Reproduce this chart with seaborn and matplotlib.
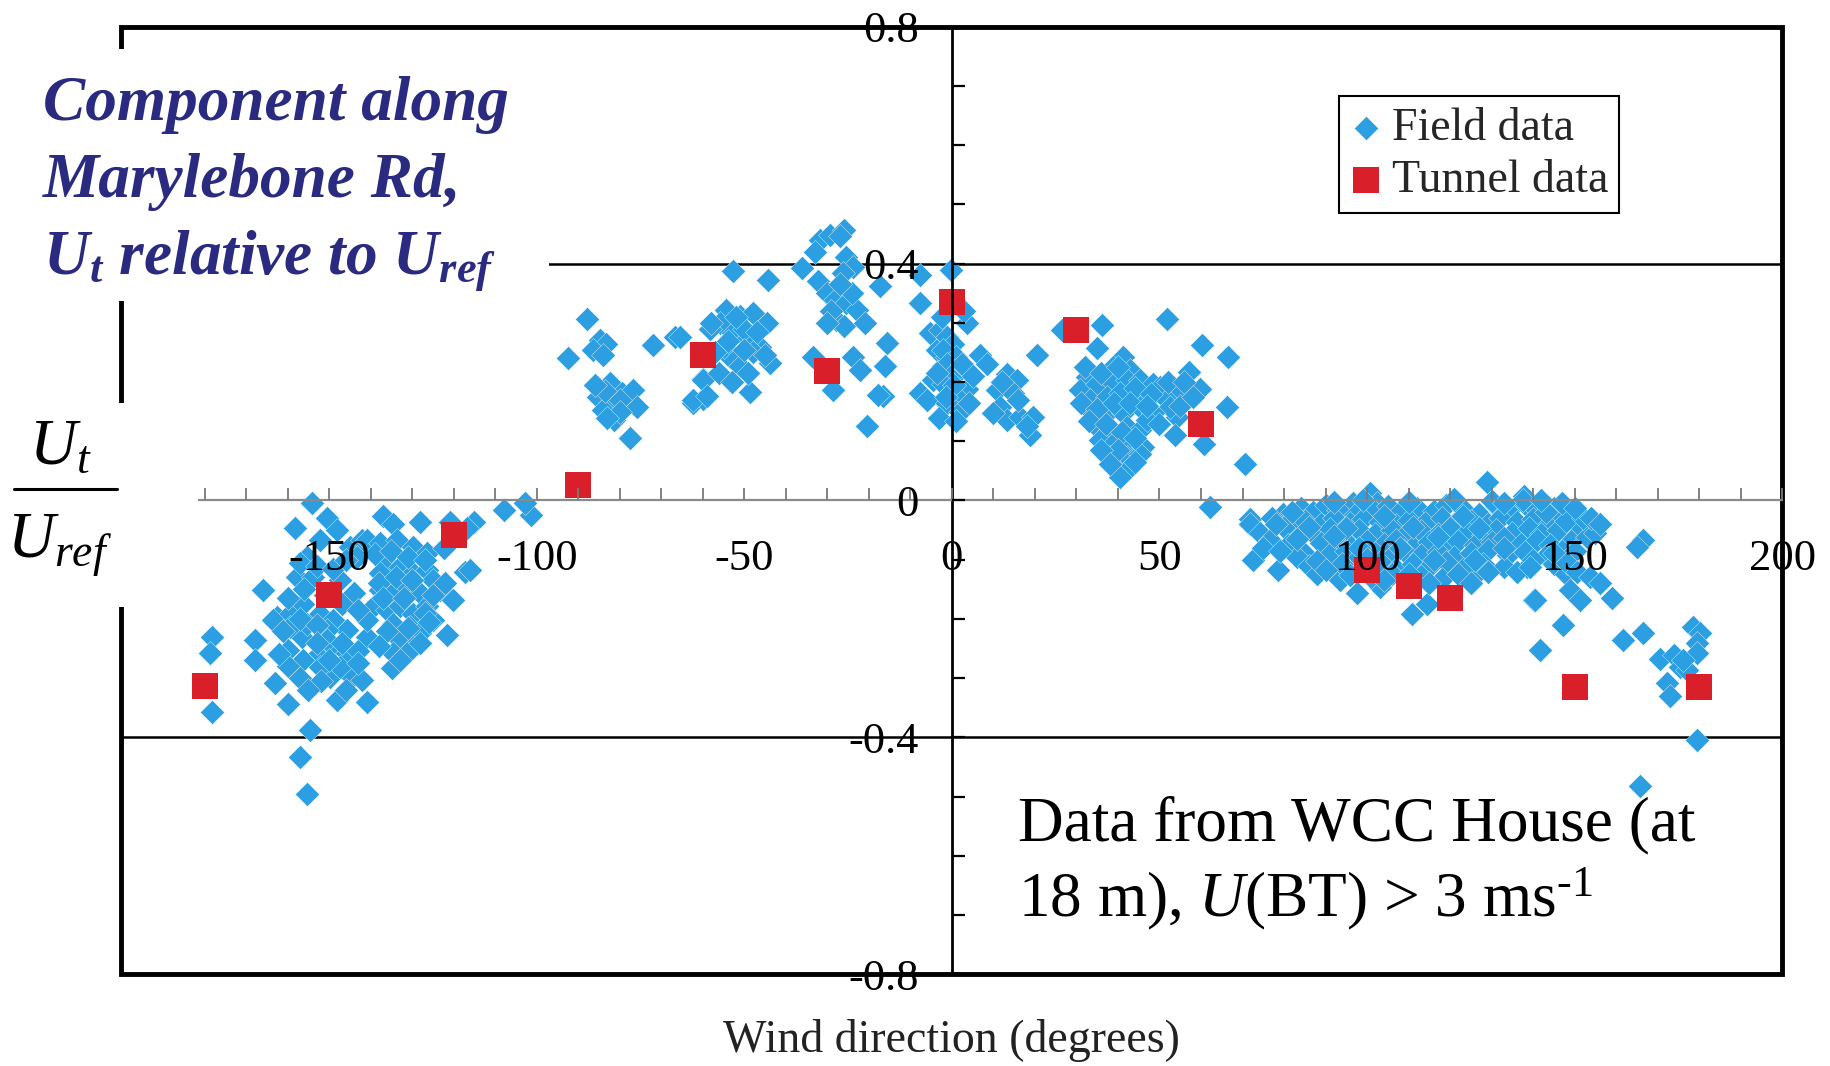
import matplotlib
matplotlib.use("Agg")
import matplotlib.pyplot as plt
import seaborn as sns
from matplotlib.patches import Rectangle
from matplotlib.lines import Line2D
from matplotlib.ticker import MultipleLocator

# ---------------------------------------------------------------- data
# Field measurements: wind direction (deg) and along-street component Ut/Uref
field_dir_w = [
    -154.2, -150.6, -158.2, -148.2, -152.2, -144.9, -142.1, -155.4, -157.8, -153.8,
    -147.4, -144.1, -165.8, -162.6, -159.4, -156.2, -152.2, -149.0, -145.8, -150.6,
    -156.6, -159.8, -156.2, -152.2, -149.0, -145.8, -140.9, -149.8, -144.5, -148.2,
    -140.9, -163.0, -159.8, -167.8, -167.8, -178.3, -178.7, -178.3, -154.6, -157.0,
    -155.4, -147.4, -150.6, -159.4, -163.4, -155.4, -152.2, -142.1,
    -136.9, -134.5, -128.1, -115.2, -140.9, -137.7, -133.7, -129.7, -126.5, -136.1,
    -132.9, -129.7, -126.5, -124.9, -137.7, -134.5, -131.3, -128.1, -123.3, -120.1,
    -139.3, -136.1, -132.9, -129.7, -126.5, -124.9, -134.5, -130.5, -128.1, -132.9,
    -129.7, -134.5, -131.3, -134.9, -121.7, -117.2, -137.7, -140.9, -143.3,
    -116.8, -116.0, -122.4, -120.8, -107.8, -101.4, -102.8,
    -157, -153, -149, -146, -160, -156, -151, -147, -143, -161,
    -157, -153, -147, -143, -153, -160, -157, -152, -146, -162,
    -150, -143, -155,
    -139, -135, -131, -127, -138, -134, -130, -125, -122, -137,
    -132, -127, -136, -131, -126, -138, -133, -128,
]
field_ratio_w = [
    -0.005, -0.030, -0.047, -0.050, -0.067, -0.078, -0.067, -0.095, -0.129, -0.129,
    -0.134, -0.157, -0.151, -0.196, -0.191, -0.174, -0.191, -0.202, -0.219, -0.219,
    -0.230, -0.253, -0.269, -0.258, -0.247, -0.258, -0.230, -0.298, -0.298, -0.337,
    -0.340, -0.309, -0.343, -0.236, -0.269, -0.230, -0.258, -0.357, -0.388, -0.433,
    -0.495, -0.281, -0.236, -0.213, -0.202, -0.208, -0.281, -0.303,
    -0.027, -0.039, -0.036, -0.036, -0.067, -0.072, -0.067, -0.078, -0.089, -0.106,
    -0.112, -0.123, -0.117, -0.134, -0.151, -0.157, -0.146, -0.157, -0.151, -0.168,
    -0.179, -0.185, -0.179, -0.191, -0.179, -0.202, -0.208, -0.213, -0.224, -0.236,
    -0.247, -0.258, -0.258, -0.283, -0.227, -0.120, -0.123, -0.202, -0.095,
    -0.046, -0.117, -0.081, -0.036, -0.016, -0.024, -0.005,
    -0.105, -0.110, -0.115, -0.100, -0.165, -0.150, -0.160, -0.175, -0.185, -0.220,
    -0.200, -0.210, -0.240, -0.255, -0.240, -0.280, -0.300, -0.305, -0.320, -0.260,
    -0.270, -0.275, -0.320,
    -0.090, -0.085, -0.095, -0.100, -0.140, -0.130, -0.135, -0.160, -0.140, -0.165,
    -0.165, -0.190, -0.220, -0.215, -0.205, -0.245, -0.270, -0.240,
]

field_dir_n = [
    -88.0, -84.8, -83.2, -86.4, -84.0, -92.4, -71.9, -66.7, -59.9, -62.3,
    -59.9, -82.3, -85.2, -82.3, -79.5, -76.7, -75.9, -81.5, -84.0, -77.5,
    -80.0, -83.5, -86.0, -80.0, -83.0,
    -31.8, -29.4, -26.1, -27.0, -25.4, -23.7, -26.2, -52.7, -44.2, -36.2,
    -32.2, -30.2, -28.2, -25.4, -22.9, -27.8, -26.1, -17.3, -7.7, -0.1,
    -7.7, -54.3, -55.9, -51.0, -47.8, -44.6, -58.3, -52.7, -49.4, -46.2,
    -53.5, -51.0, -43.8, -59.9, -62.3, -59.1, -48.6, -65.5, -33.4, -23.7,
    -22.1, -15.7, -16.1, -28.6, -16.5, -20.5, -7.7, -5.3, -3.7, -2.1,
    -4.5, -2.1, -1.3, -2.9, -6.1, -17.9, -50.0, -55.0, -48.0,
    -57, -54, -50, -47, -45, -56, -53, -49, -58, -52,
    -29, -24, -27, -21, -30, -33,
]
field_ratio_n = [
    0.307, 0.271, 0.265, 0.254, 0.245, 0.240, 0.262, 0.276, 0.206, 0.164,
    0.172, 0.198, 0.175, 0.164, 0.181, 0.186, 0.158, 0.136, 0.153, 0.105,
    0.170, 0.185, 0.195, 0.150, 0.140,
    0.440, 0.449, 0.457, 0.447, 0.412, 0.395, 0.384, 0.387, 0.373, 0.393,
    0.370, 0.350, 0.339, 0.333, 0.322, 0.305, 0.294, 0.362, 0.381, 0.390,
    0.333, 0.322, 0.300, 0.311, 0.317, 0.300, 0.289, 0.283, 0.272, 0.260,
    0.243, 0.227, 0.232, 0.204, 0.170, 0.176, 0.184, 0.277, 0.243, 0.243,
    0.221, 0.266, 0.227, 0.187, 0.176, 0.125, 0.182, 0.283, 0.255, 0.227,
    0.204, 0.170, 0.243, 0.288, 0.170, 0.179, 0.290, 0.260, 0.250,
    0.250, 0.270, 0.255, 0.285, 0.245, 0.215, 0.200, 0.215, 0.300, 0.310,
    0.320, 0.350, 0.365, 0.300, 0.300, 0.420,
]

field_dir_e = [
    3.6, -1.3, 0.3, -2.1, 1.1, -1.3, 1.9, -0.5, -2.1, 3.6,
    -0.5, 1.9, -1.3, 1.9, 6.8, 8.4, 20.4, 13.2, 15.6, 10.8,
    14.8, 11.6, 13.2, 16.4, 19.6, 18.8, 10.0, 26.4, 36.1, 34.9,
    51.7, 60.2, 66.6, 57.0, 55.0, 59.8, 66.2, 54.1, 53.7, 60.6,
    70.6, 62.2, 71.8,
    -3.5, 0.5, -1.5, 2.5, -3.0, 1.0, -2.5, 3.0, 5.0, 4.0,
    12.0, 16.0, 18.0,
    41.3, 38.9, 42.9, 32.5, 30.9, 34.9, 38.1, 42.1, 45.3, 48.5,
    50.1, 33.3, 37.3, 40.5, 44.5, 46.9, 51.7, 52.5, 34.1, 37.3,
    41.3, 45.3, 48.5, 34.9, 38.1, 42.1, 45.3, 46.9, 35.7, 38.9,
    42.9, 46.1, 38.1, 42.1, 45.3, 39.7, 42.9, 40.5,
    32, 36, 40, 44, 48, 52, 55, 31, 35, 39,
    43, 47, 33, 37, 41, 44, 40, 36, 44, 38,
    50, 56, 58,
]
field_ratio_e = [
    0.299, 0.276, 0.265, 0.254, 0.243, 0.231, 0.220, 0.209, 0.197, 0.189,
    0.181, 0.169, 0.164, 0.150, 0.245, 0.231, 0.245, 0.214, 0.203, 0.186,
    0.181, 0.158, 0.136, 0.141, 0.141, 0.110, 0.147, 0.288, 0.296, 0.257,
    0.307, 0.262, 0.243, 0.217, 0.186, 0.189, 0.158, 0.141, 0.110, 0.096,
    0.062, -0.011, -0.031,
    0.215, 0.195, 0.175, 0.230, 0.140, 0.135, 0.310, 0.320, 0.210, 0.165,
    0.200, 0.170, 0.125,
    0.243, 0.226, 0.220, 0.209, 0.186, 0.197, 0.203, 0.203, 0.203, 0.197,
    0.192, 0.169, 0.175, 0.181, 0.175, 0.169, 0.169, 0.158, 0.147, 0.147,
    0.147, 0.158, 0.147, 0.124, 0.119, 0.124, 0.119, 0.136, 0.102, 0.096,
    0.096, 0.091, 0.074, 0.074, 0.079, 0.051, 0.057, 0.040,
    0.225, 0.215, 0.225, 0.190, 0.180, 0.200, 0.160, 0.165, 0.155, 0.165,
    0.165, 0.160, 0.135, 0.130, 0.115, 0.105, 0.085, 0.085, 0.065, 0.062,
    0.130, 0.200, 0.175,
]

field_dir_s = [
    128.8, 100.7, 102.3, 96.7, 79.8, 71.8, 74.2, 76.6, 72.6, 78.6,
    82.2, 84.7, 137.7, 93.5, 97.5, 103.1, 110.8, 114.4, 125.6, 140.1,
    138.5, 77.0, 80.0, 75.0, 81.0, 83.0, 86.0, 78.0, 84.0, 88.0,
    84, 87, 90, 93, 97, 101, 105, 108, 112, 116, 119, 123, 127, 131, 134, 138, 141, 145,
    85, 89, 92, 96, 99, 103, 107, 110, 114, 118, 121, 125, 129, 132, 136, 140, 144, 147,
    87, 91, 95, 98, 102, 106, 109, 113, 117, 120, 124, 128, 131, 135, 139, 142, 146, 151,
    89, 93, 96, 100, 104, 107, 111, 115, 119, 122, 126, 130, 133, 137, 141, 144, 149, 153,
    91, 95, 98, 102, 106, 109, 113, 117, 121, 125, 129, 134, 138, 143, 147,
    94, 99, 103, 107, 111, 115, 119, 123, 128, 133, 145,
    96, 101, 106, 113, 118, 122, 129, 148,
    82, 86, 83, 79, 88, 90, 92, 99, 110, 121, 130, 95, 104, 111, 117, 123,
    127, 133, 140, 136, 126, 116, 108, 98, 92, 100, 143, 148, 152, 155,
    150, 145, 110, 115, 104, 125,
    137.6, 133.0, 142.0, 147.0, 150.0, 154.0, 156.0,
    166.5, 164.9, 139.2, 148.1, 150.5, 153.7, 156.1, 148.9, 151.3, 140.4,
    158.9, 147.3, 141.6, 161.7, 166.5, 170.5, 173.8, 178.6, 180.2, 179.4,
    179.4, 175.4, 177.0, 172.2, 173.0, 176.0, 179.4, 165.7,
]
field_ratio_s = [
    0.032, 0.012, -0.005, -0.005, -0.022, -0.039, -0.055, -0.067, -0.100, -0.117,
    -0.050, -0.089, 0.007, -0.134, -0.157, -0.146, -0.191, -0.174, -0.129, -0.168,
    -0.112, -0.030, -0.045, -0.080, -0.075, -0.095, -0.110, -0.040, -0.035, -0.125,
    -0.012, -0.020, -0.008, -0.016, -0.024, -0.013, -0.009, -0.020, -0.012, -0.018,
    -0.007, -0.015, -0.022, -0.010, -0.018, -0.006, -0.016, -0.012,
    -0.034, -0.040, -0.030, -0.038, -0.031, -0.036, -0.042, -0.033, -0.038, -0.029,
    -0.040, -0.034, -0.039, -0.030, -0.036, -0.031, -0.038, -0.027,
    -0.055, -0.048, -0.058, -0.050, -0.056, -0.049, -0.060, -0.052, -0.057, -0.047,
    -0.054, -0.058, -0.050, -0.055, -0.047, -0.057, -0.050, -0.046,
    -0.072, -0.066, -0.077, -0.069, -0.074, -0.066, -0.078, -0.070, -0.075, -0.068,
    -0.076, -0.070, -0.064, -0.073, -0.067, -0.076, -0.069, -0.061,
    -0.090, -0.085, -0.095, -0.088, -0.094, -0.085, -0.092, -0.087, -0.096, -0.089,
    -0.084, -0.092, -0.087, -0.094, -0.086,
    -0.108, -0.112, -0.104, -0.115, -0.107, -0.113, -0.104, -0.116, -0.108, -0.113, -0.107,
    -0.126, -0.130, -0.124, -0.128, -0.133, -0.125, -0.121, -0.124,
    -0.020, -0.045, -0.065, -0.085, -0.102, -0.118, -0.003, 0.001, -0.002, 0.002,
    -0.001, -0.047, -0.027, -0.045, -0.062, -0.027, -0.046, -0.080, -0.100, -0.120,
    -0.100, -0.101, -0.080, -0.080, -0.060, -0.098, -0.020, -0.035, -0.030, -0.055,
    -0.085, -0.088, -0.125, -0.140, -0.135, -0.140,
    0.001, -0.004, 0.000, -0.004, -0.012, -0.030, -0.040,
    -0.067, -0.078, -0.112, -0.106, -0.120, -0.130, -0.140, -0.151, -0.168, -0.168,
    -0.165, -0.210, -0.252, -0.236, -0.224, -0.267, -0.261, -0.213, -0.224, -0.240,
    -0.258, -0.281, -0.287, -0.309, -0.331, -0.270, -0.405, -0.483,
]

# Wind-tunnel results
tunnel_dir = [-180, -150, -120, -90, -60, -30, 0, 30, 60, 100, 110, 120, 150, 180]
tunnel_ratio = [-0.313, -0.160, -0.058, 0.026, 0.246, 0.218, 0.336, 0.288,
                0.130, -0.117, -0.145, -0.165, -0.315, -0.315]

x_ticks = [-150, -100, -50, 0, 50, 100, 150, 200]
x_tick_labels = ["-150", "-100", "-50", "0", "50", "100", "150", "200"]
y_ticks = [-0.8, -0.4, 0.0, 0.4, 0.8]
y_tick_labels = ["-0.8", "-0.4", "0", "0.4", "0.8"]

field_dir = field_dir_w + field_dir_n + field_dir_e + field_dir_s
field_ratio = field_ratio_w + field_ratio_n + field_ratio_e + field_ratio_s

# ---------------------------------------------------------------- style
sns.set_theme(style="white")
plt.rcParams["font.family"] = ["Liberation Serif", "DejaVu Serif"]
plt.rcParams["mathtext.fontset"] = "custom"
plt.rcParams["mathtext.rm"] = "Liberation Serif"
plt.rcParams["mathtext.it"] = "Liberation Serif:italic"
plt.rcParams["mathtext.bf"] = "Liberation Serif:bold:italic"

BLUE = "#2C9FE2"
RED = "#D9202A"
NAVY = "#2A2A80"

W, H = 1830, 1066
fig = plt.figure(figsize=(W / 100, H / 100), dpi=100)
fig.patch.set_facecolor("white")


def fx(px):
    return px / W


def fy(py):
    return 1 - py / H


ax = fig.add_axes([fx(121.5), fy(974.1), (1782.3 - 121.5) / W, (974.1 - 26.9) / H])
ax.set_facecolor("white")
ax.set_axisbelow(False)

# reference lines at +-0.4
for yv in (0.4, -0.4):
    ax.axhline(yv, color="black", lw=1.8, zorder=1)

sns.scatterplot(x=field_dir, y=field_ratio, marker="D", s=150, color=BLUE,
                edgecolor="white", linewidth=0.25, ax=ax, zorder=2,
                label="Field data")
sns.scatterplot(x=tunnel_dir, y=tunnel_ratio, marker="s", s=350, color=RED,
                linewidth=0, ax=ax, zorder=2.1, label="Tunnel data")

ax.set_xlim(-200, 200)
ax.set_ylim(-0.8, 0.8)

# axes crossing at the origin
ax.spines["left"].set_position(("data", 0))
ax.spines["left"].set_color("black")
ax.spines["left"].set_linewidth(2.0)
ax.spines["bottom"].set_position(("data", 0))
ax.spines["bottom"].set_color("#8a8a8a")
ax.spines["bottom"].set_linewidth(1.6)
ax.spines["top"].set_visible(False)
ax.spines["right"].set_visible(False)

# outer frame
ax.add_patch(Rectangle((0, 0), 1, 1, transform=ax.transAxes, fill=False,
                       edgecolor="black", lw=3.5, clip_on=False, zorder=2.3))

ax.set_xticks(x_ticks, labels=x_tick_labels)
ax.xaxis.set_minor_locator(MultipleLocator(10))
ax.tick_params(axis="x", which="both", direction="in", length=9, width=1.3,
               color="#7a7a7a", labelsize=32, pad=28, labelcolor="black",
               bottom=True, top=False)
ax.set_yticks(y_ticks, labels=y_tick_labels)
ax.yaxis.set_minor_locator(MultipleLocator(0.1))
ax.tick_params(axis="y", which="both", direction="in", length=9, width=1.6,
               color="black", labelsize=32, pad=24, labelcolor="black",
               left=True, right=False)
ax.set_xlabel("")
ax.set_ylabel("")

leg = ax.legend(loc="upper left", bbox_to_anchor=(0.733, 0.927), frameon=True,
                fancybox=False, edgecolor="black", framealpha=1, fontsize=33,
                borderpad=0.25, labelspacing=0.2, handlelength=0.7,
                handletextpad=0.2, borderaxespad=0)
leg.get_frame().set_linewidth(1.5)

# x-axis caption
ax.text(0.5, (974.1 - 1040) / 947.2, "Wind direction (degrees)",
        transform=ax.transAxes, ha="center", va="center", fontsize=33,
        color="#222222")

# white panels behind the left-hand labels
fig.add_artist(Rectangle((0, fy(301)), fx(549), (301 - 49) / H,
                         transform=fig.transFigure, facecolor="white",
                         edgecolor="none", zorder=10))
fig.add_artist(Rectangle((0, fy(607)), fx(198), (607 - 403) / H,
                         transform=fig.transFigure, facecolor="white",
                         edgecolor="none", zorder=10))

# title block
title_kw = dict(fontsize=45.5, fontweight="bold", fontstyle="italic",
                color=NAVY, ha="left", va="baseline", zorder=11)
fig.text(fx(43), fy(120), "Component along", **title_kw)
fig.text(fx(43), fy(197), "Marylebone Rd,", **title_kw)
fig.text(fx(43), fy(273), r"$\mathbf{U_t}$ relative to $\mathbf{U_{ref}}$",
         **title_kw)

# y-axis quantity as a fraction
frac_kw = dict(fontsize=47, color="black", ha="center", va="baseline", zorder=11)
fig.text(fx(60), fy(464), r"$U_t$", **frac_kw)
fig.text(fx(60), fy(558), r"$U_{ref}$", **frac_kw)
fig.add_artist(Line2D([fx(14), fx(117)], [fy(489), fy(489)],
                      transform=fig.transFigure, color="black", lw=2.2,
                      zorder=11))

# data source note
note_kw = dict(fontsize=45.5, color="black", ha="left", va="baseline", zorder=11)
fig.text(fx(1018), fy(840), "Data from WCC House (at", **note_kw)
fig.text(fx(1018), fy(916), r"18 m), $U$(BT) > 3 ms$^{\text{-}1}$", **note_kw)

fig.savefig("out.png", dpi=100, facecolor="white")
